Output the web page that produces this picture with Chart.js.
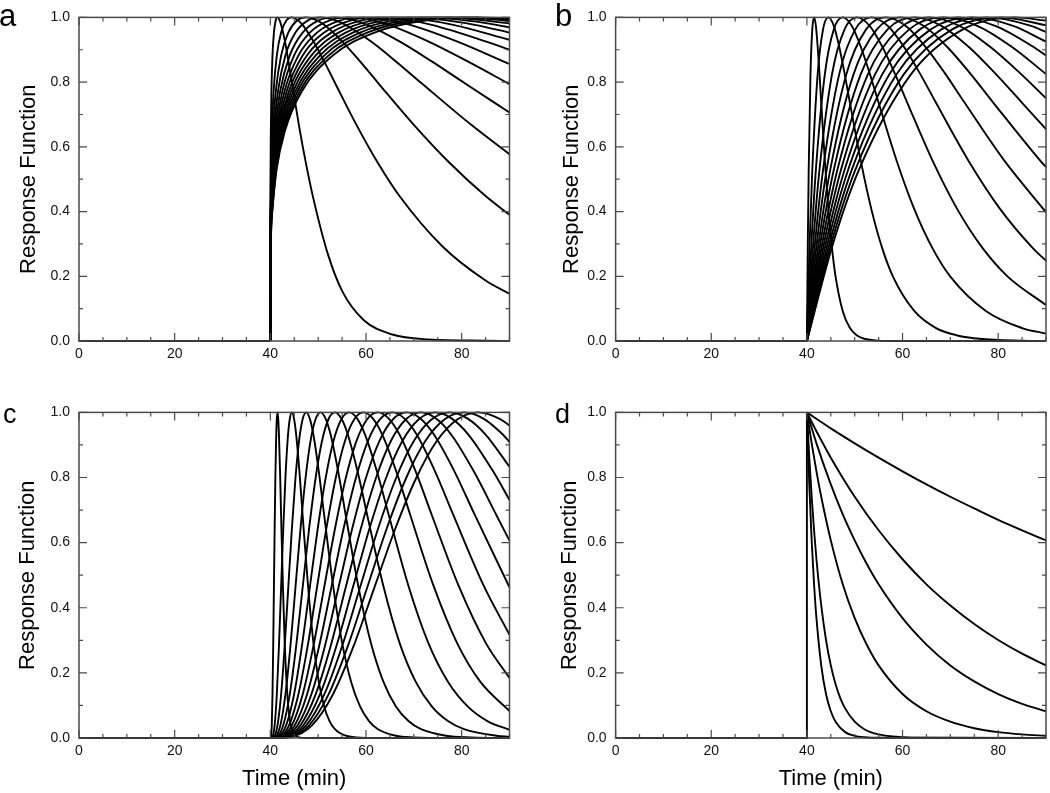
<!DOCTYPE html>
<html><head><meta charset="utf-8">
<script src="https://cdn.jsdelivr.net/npm/chart.js@4.4.1/dist/chart.umd.min.js"></script>
<style>
html,body{margin:0;padding:0;background:#fff;width:1050px;height:793px;overflow:hidden;position:relative}
canvas{position:absolute}
</style></head><body>
<canvas id="pa" width="530" height="380" style="left:0;top:0"></canvas>
<canvas id="pb" width="514" height="380" style="left:536px;top:0"></canvas>
<canvas id="pc" width="530" height="398" style="left:0;top:395px"></canvas>
<canvas id="pd" width="514" height="398" style="left:536px;top:395px"></canvas>
<script>
// ---------- tick labels / marks ----------
const xTickLabels = [0, 20, 40, 60, 80];
const yTickLabels = [0, 0.2, 0.4, 0.6, 0.8, 1.0];
const xTickMarks = [0, 5, 10, 15, 20, 25, 30, 35, 40, 45, 50, 55, 60, 65, 70, 75, 80, 85, 90];
const yTickMarks = [0, 0.1, 0.2, 0.3, 0.4, 0.5, 0.6, 0.7, 0.8, 0.9, 1.0];
const panelLetters = ['a', 'b', 'c', 'd'];
const xAxisTitle = 'Time (min)';
const yAxisTitle = 'Response Function';

// ---------- baselines (flat before onset at 40 min) ----------
const baseABC = [[0, 0], [40, 0]];
const baseD = [[0, 0], [40, 0], [40, 1]];

// ---------- panel a : fast-rising responses ----------
const curvesA = [
  [[40,0],[40.003,.271],[40.015,.405],[40.045,.53],[40.105,.649],[40.225,.77],[40.45,.882],[40.75,.953],[41.13,.991],[41.5,1],[41.88,.993],[42.25,.977],[43,.93],[44.5,.8],[46,.665],[47.5,.545],[49,.44],[52,.27],[55,.155],[59.5,.065],[65.5,.02],[73,.005],[85,.001],[90,0]],
  [[40,0],[40.009,.271],[40.045,.405],[40.135,.53],[40.315,.649],[40.675,.77],[41.35,.882],[42.25,.953],[43.38,.991],[44.5,1],[45.63,.993],[46.75,.977],[49,.926],[51.25,.864],[53.5,.798],[58,.668],[62.5,.55],[67,.448],[76,.292],[85,.187],[90,.146]],
  [[40,0],[40.015,.271],[40.075,.405],[40.225,.53],[40.525,.649],[41.13,.77],[42.25,.882],[43.75,.953],[45.63,.991],[47.5,1],[49.38,.993],[51.25,.977],[55,.926],[58.75,.864],[62.5,.798],[70,.668],[77.5,.55],[85,.448],[90,.39]],
  [[40,0],[40.021,.271],[40.105,.405],[40.315,.53],[40.735,.649],[41.58,.77],[43.15,.882],[45.25,.953],[47.88,.991],[50.5,1],[53.13,.993],[55.75,.977],[61,.926],[66.25,.864],[71.5,.798],[82,.668],[90,.577]],
  [[40,0],[40.027,.271],[40.135,.405],[40.405,.53],[40.945,.649],[42.03,.77],[44.05,.882],[46.75,.953],[50.13,.991],[53.5,1],[56.88,.993],[60.25,.977],[67,.926],[73.75,.864],[80.5,.798],[90,.706]],
  [[40,0],[40.033,.271],[40.165,.405],[40.495,.53],[41.16,.649],[42.48,.77],[44.95,.882],[48.25,.953],[52.38,.991],[56.5,1],[60.63,.993],[64.75,.977],[73,.926],[81.25,.864],[90,.794]],
  [[40,0],[40.039,.271],[40.195,.405],[40.585,.53],[41.37,.649],[42.93,.77],[45.85,.882],[49.75,.953],[54.63,.991],[59.5,1],[64.38,.993],[69.25,.977],[79,.926],[90,.856]],
  [[40,0],[40.045,.271],[40.225,.405],[40.675,.53],[41.58,.649],[43.38,.77],[46.75,.882],[51.25,.953],[56.88,.991],[62.5,1],[68.13,.993],[73.75,.977],[85,.926],[90,.9]],
  [[40,0],[40.051,.271],[40.255,.405],[40.765,.53],[41.79,.649],[43.83,.77],[47.65,.882],[52.75,.953],[59.13,.991],[65.5,1],[71.88,.993],[78.25,.977],[90,.931]],
  [[40,0],[40.057,.271],[40.285,.405],[40.855,.53],[42,.649],[44.28,.77],[48.55,.882],[54.25,.953],[61.38,.991],[68.5,1],[75.63,.993],[82.75,.977],[90,.953]],
  [[40,0],[40.063,.271],[40.315,.405],[40.945,.53],[42.21,.649],[44.73,.77],[49.45,.882],[55.75,.953],[63.63,.991],[71.5,1],[79.38,.993],[87.25,.977],[90,.969]],
  [[40,0],[40.069,.271],[40.345,.405],[41.04,.53],[42.42,.649],[45.18,.77],[50.35,.882],[57.25,.953],[65.88,.991],[74.5,1],[83.13,.993],[90,.981]],
  [[40,0],[40.075,.271],[40.375,.405],[41.13,.53],[42.63,.649],[45.63,.77],[51.25,.882],[58.75,.953],[68.13,.991],[77.5,1],[86.88,.993],[90,.989]],
  [[40,0],[40.081,.271],[40.405,.405],[41.22,.53],[42.84,.649],[46.08,.77],[52.15,.882],[60.25,.953],[70.38,.991],[80.5,1],[90,.994]],
  [[40,0],[40.087,.271],[40.435,.405],[41.31,.53],[43.05,.649],[46.53,.77],[53.05,.882],[61.75,.953],[72.63,.991],[83.5,1],[90,.997]]
];

// ---------- panel b : linear-onset responses ----------
const curvesB = [
  [[40,0],[40.19,.3],[40.38,.529],[40.75,.824],[41.13,.963],[41.5,1],[41.88,.974],[42.25,.91],[42.63,.827],[43,.736],[43.75,.558],[44.5,.406],[45.25,.287],[46,.199],[47.5,.092],[49,.04],[50.5,.017],[52,.007],[55,.001],[58,0],[90,0]],
  [[40,0],[40.56,.3],[41.13,.529],[42.25,.824],[43.38,.963],[44.5,1],[45.63,.974],[46.75,.91],[47.88,.827],[49,.736],[51.25,.558],[53.5,.406],[55.75,.287],[58,.199],[62.5,.092],[67,.04],[71.5,.017],[76,.007],[85,.001],[90,0]],
  [[40,0],[40.94,.3],[41.88,.529],[43.75,.824],[45.63,.963],[47.5,1],[49.38,.974],[51.25,.91],[53.13,.827],[55,.736],[58.75,.558],[62.5,.406],[66.25,.287],[70,.199],[77.5,.092],[85,.04],[90,.023]],
  [[40,0],[41.31,.3],[42.63,.529],[45.25,.824],[47.88,.963],[50.5,1],[53.13,.974],[55.75,.91],[58.38,.827],[61,.736],[66.25,.558],[71.5,.406],[76.75,.287],[82,.199],[90,.111]],
  [[40,0],[41.69,.3],[43.38,.529],[46.75,.824],[50.13,.963],[53.5,1],[56.88,.974],[60.25,.91],[63.63,.827],[67,.736],[73.75,.558],[80.5,.406],[87.25,.287],[90,.248]],
  [[40,0],[42.06,.3],[44.13,.529],[48.25,.824],[52.38,.963],[56.5,1],[60.63,.974],[64.75,.91],[68.88,.827],[73,.736],[81.25,.558],[90,.398]],
  [[40,0],[42.44,.3],[44.88,.529],[49.75,.824],[54.63,.963],[59.5,1],[64.38,.974],[69.25,.91],[74.13,.827],[79,.736],[88.75,.558],[90,.537]],
  [[40,0],[42.81,.3],[45.63,.529],[51.25,.824],[56.88,.963],[62.5,1],[68.13,.974],[73.75,.91],[79.38,.827],[85,.736],[90,.655]],
  [[40,0],[43.19,.3],[46.38,.529],[52.75,.824],[59.13,.963],[65.5,1],[71.88,.974],[78.25,.91],[84.63,.827],[90,.75]],
  [[40,0],[43.56,.3],[47.13,.529],[54.25,.824],[61.38,.963],[68.5,1],[75.63,.974],[82.75,.91],[90,.825]],
  [[40,0],[43.94,.3],[47.88,.529],[55.75,.824],[63.63,.963],[71.5,1],[79.38,.974],[87.25,.91],[90,.882]],
  [[40,0],[44.31,.3],[48.63,.529],[57.25,.824],[65.88,.963],[74.5,1],[83.13,.974],[90,.925]],
  [[40,0],[44.69,.3],[49.38,.529],[58.75,.824],[68.13,.963],[77.5,1],[86.88,.974],[90,.955]],
  [[40,0],[45.06,.3],[50.13,.529],[60.25,.824],[70.38,.963],[80.5,1],[90,.976]],
  [[40,0],[45.44,.3],[50.88,.529],[61.75,.824],[72.63,.963],[83.5,1],[90,.99]]
];

// ---------- panel c : delayed, bell-shaped responses ----------
const curvesC = [
  [[40,0],[40.15,.004],[40.3,.039],[40.45,.133],[40.6,.282],[40.75,.462],[40.9,.642],[41.05,.797],[41.2,.912],[41.35,.979],[41.5,1],[41.65,.981],[41.8,.932],[42.03,.819],[42.25,.685],[42.63,.467],[43,.293],[43.38,.173],[43.75,.097],[44.13,.052],[44.5,.027],[45.25,.007],[46,.002],[47.5,0],[90,0]],
  [[40,0],[40.45,.004],[40.9,.039],[41.35,.133],[41.8,.282],[42.25,.462],[42.7,.642],[43.15,.797],[43.6,.912],[44.05,.979],[44.5,1],[44.95,.981],[45.4,.932],[46.08,.819],[46.75,.685],[47.88,.467],[49,.293],[50.13,.173],[51.25,.097],[52.38,.052],[53.5,.027],[55.75,.007],[58,.002],[62.5,0],[90,0]],
  [[40,0],[40.75,.004],[41.5,.039],[42.25,.133],[43,.282],[43.75,.462],[44.5,.642],[45.25,.797],[46,.912],[46.75,.979],[47.5,1],[48.25,.981],[49,.932],[50.13,.819],[51.25,.685],[53.13,.467],[55,.293],[56.88,.173],[58.75,.097],[60.63,.052],[62.5,.027],[66.25,.007],[70,.002],[77.5,0],[90,0]],
  [[40,0],[41.05,.004],[42.1,.039],[43.15,.133],[44.2,.282],[45.25,.462],[46.3,.642],[47.35,.797],[48.4,.912],[49.45,.979],[50.5,1],[51.55,.981],[52.6,.932],[54.18,.819],[55.75,.685],[58.38,.467],[61,.293],[63.63,.173],[66.25,.097],[68.88,.052],[71.5,.027],[76.75,.007],[82,.002],[90,0]],
  [[40,0],[41.35,.004],[42.7,.039],[44.05,.133],[45.4,.282],[46.75,.462],[48.1,.642],[49.45,.797],[50.8,.912],[52.15,.979],[53.5,1],[54.85,.981],[56.2,.932],[58.23,.819],[60.25,.685],[63.63,.467],[67,.293],[70.38,.173],[73.75,.097],[77.13,.052],[80.5,.027],[87.25,.007],[90,.004]],
  [[40,0],[41.65,.004],[43.3,.039],[44.95,.133],[46.6,.282],[48.25,.462],[49.9,.642],[51.55,.797],[53.2,.912],[54.85,.979],[56.5,1],[58.15,.981],[59.8,.932],[62.28,.819],[64.75,.685],[68.88,.467],[73,.293],[77.13,.173],[81.25,.097],[85.38,.052],[90,.025]],
  [[40,0],[41.95,.004],[43.9,.039],[45.85,.133],[47.8,.282],[49.75,.462],[51.7,.642],[53.65,.797],[55.6,.912],[57.55,.979],[59.5,1],[61.45,.981],[63.4,.932],[66.33,.819],[69.25,.685],[74.13,.467],[79,.293],[83.88,.173],[90,.083]],
  [[40,0],[42.25,.004],[44.5,.039],[46.75,.133],[49,.282],[51.25,.462],[53.5,.642],[55.75,.797],[58,.912],[60.25,.979],[62.5,1],[64.75,.981],[67,.932],[70.38,.819],[73.75,.685],[79.38,.467],[85,.293],[90,.184]],
  [[40,0],[42.55,.004],[45.1,.039],[47.65,.133],[50.2,.282],[52.75,.462],[55.3,.642],[57.85,.797],[60.4,.912],[62.95,.979],[65.5,1],[68.05,.981],[70.6,.932],[74.43,.819],[78.25,.685],[84.63,.467],[90,.317]],
  [[40,0],[42.85,.004],[45.7,.039],[48.55,.133],[51.4,.282],[54.25,.462],[57.1,.642],[59.95,.797],[62.8,.912],[65.65,.979],[68.5,1],[71.35,.981],[74.2,.932],[78.48,.819],[82.75,.685],[90,.463]],
  [[40,0],[43.15,.004],[46.3,.039],[49.45,.133],[52.6,.282],[55.75,.462],[58.9,.642],[62.05,.797],[65.2,.912],[68.35,.979],[71.5,1],[74.65,.981],[77.8,.932],[82.53,.819],[87.25,.685],[90,.606]],
  [[40,0],[43.45,.004],[46.9,.039],[50.35,.133],[53.8,.282],[57.25,.462],[60.7,.642],[64.15,.797],[67.6,.912],[71.05,.979],[74.5,1],[77.95,.981],[81.4,.932],[86.58,.819],[90,.731]],
  [[40,0],[43.75,.004],[47.5,.039],[51.25,.133],[55,.282],[58.75,.462],[62.5,.642],[66.25,.797],[70,.912],[73.75,.979],[77.5,1],[81.25,.981],[85,.932],[90,.833]],
  [[40,0],[44.05,.004],[48.1,.039],[52.15,.133],[56.2,.282],[60.25,.462],[64.3,.642],[68.35,.797],[72.4,.912],[76.45,.979],[80.5,1],[84.55,.981],[88.6,.932],[90,.909]],
  [[40,0],[44.35,.004],[48.7,.039],[53.05,.133],[57.4,.282],[61.75,.462],[66.1,.642],[70.45,.797],[74.8,.912],[79.15,.979],[83.5,1],[87.85,.981],[90,.96]]
];

// ---------- panel d : instantaneous rise, exponential decays ----------
const curvesD = [
  [[40,1],[45,.951],[50,.905],[55,.861],[60,.819],[65,.779],[70,.741],[75,.705],[80,.67],[85,.638],[90,.607]],
  [[40,1],[42,.942],[45,.861],[50,.741],[55,.638],[60,.549],[65,.472],[70,.407],[75,.35],[80,.301],[85,.259],[90,.223]],
  [[40,1],[42,.905],[45,.779],[47.5,.687],[50,.607],[52.5,.535],[55,.472],[60,.368],[65,.287],[70,.223],[75,.174],[80,.135],[85,.105],[90,.082]],
  [[40,1],[41,.905],[42,.819],[43,.741],[45,.607],[47.5,.472],[50,.368],[52.5,.287],[55,.223],[60,.135],[65,.082],[70,.05],[75,.03],[80,.018],[85,.011],[90,.0067]],
  [[40,1],[40.5,.861],[41,.741],[41.5,.638],[42,.549],[43,.407],[44,.301],[45,.223],[46,.165],[47,.122],[48,.091],[50,.05],[52,.027],[55,.011],[60,.0025],[65,.0006],[90,0]],
  [[40,1],[40.5,.779],[41,.607],[41.5,.472],[42,.368],[43,.223],[44,.135],[45,.082],[46,.05],[48,.018],[50,.0067],[52,.0025],[55,.0006],[90,0]]
];

// ---------- drawing ----------
const FONT = '"Liberation Sans", Arial, Helvetica, sans-serif';

const framePlugin = {
  id: 'frame',
  afterDatasetsDraw(chart, args, opts) {
    const ctx = chart.ctx, a = chart.chartArea, xs = chart.scales.x, ys = chart.scales.y;
    ctx.save();
    ctx.strokeStyle = '#4a4a4a';
    ctx.lineWidth = 1.5;
    ctx.strokeRect(a.left, a.top, a.right - a.left, a.bottom - a.top);
    ctx.lineWidth = 1.2;
    ctx.beginPath();
    xTickMarks.forEach(v => {
      const px = xs.getPixelForValue(v);
      const L = xTickLabels.some(t => Math.abs(t - v) < 1e-6) ? 8 : 4;
      ctx.moveTo(px, a.bottom); ctx.lineTo(px, a.bottom - L);
      ctx.moveTo(px, a.top); ctx.lineTo(px, a.top + L);
    });
    yTickMarks.forEach(v => {
      const py = ys.getPixelForValue(v);
      const L = yTickLabels.some(t => Math.abs(t - v) < 1e-6) ? 8 : 4;
      ctx.moveTo(a.left, py); ctx.lineTo(a.left + L, py);
      ctx.moveTo(a.right, py); ctx.lineTo(a.right - L, py);
    });
    ctx.stroke();
    ctx.restore();
  },
  afterDraw(chart, args, opts) {
    const ctx = chart.ctx;
    ctx.save();
    ctx.fillStyle = '#000';
    ctx.font = opts.lsize + 'px ' + FONT;
    ctx.textBaseline = 'alphabetic';
    ctx.textAlign = 'left';
    ctx.fillText(opts.letter, opts.lx, opts.ly);
    ctx.restore();
  }
};

function buildChart(id, base, curves, p) {
  const datasets = [base].concat(curves).map(d => ({
    data: d,
    borderColor: '#000',
    borderWidth: 1.9,
    pointRadius: 0,
    fill: false,
    cubicInterpolationMode: 'monotone',
    clip: 3
  }));
  return new Chart(document.getElementById(id), {
    type: 'line',
    data: { datasets },
    plugins: [framePlugin],
    options: {
      responsive: false,
      animation: false,
      devicePixelRatio: 1,
      events: [],
      layout: { padding: { left: 0, right: p.padRight, top: p.padTop, bottom: 0 } },
      plugins: {
        legend: { display: false },
        tooltip: { enabled: false },
        frame: { letter: p.letter, lx: p.lx, ly: p.ly, lsize: p.lsize }
      },
      scales: {
        x: {
          type: 'linear', min: 0, max: 90,
          afterBuildTicks: s => { s.ticks = xTickLabels.map(v => ({ value: v })); },
          afterFit: s => { s.height = p.xh; },
          grid: { display: false, drawTicks: false },
          border: { display: false },
          ticks: { padding: 5, color: '#111', font: { family: FONT, size: 14 }, maxRotation: 0, autoSkip: false, callback: v => String(v) },
          title: p.xTitle
            ? { display: true, text: xAxisTitle, color: '#000', font: { family: FONT, size: 22 }, padding: { top: 0, bottom: p.xtPad } }
            : { display: false }
        },
        y: {
          type: 'linear', min: 0, max: 1,
          afterBuildTicks: s => { s.ticks = yTickLabels.map(v => ({ value: v })); },
          afterFit: s => { s.width = p.yw; },
          grid: { display: false, drawTicks: false },
          border: { display: false },
          ticks: { padding: 9, color: '#111', font: { family: FONT, size: 14 }, autoSkip: false, callback: v => Number(v).toFixed(1) },
          title: { display: true, text: yAxisTitle, color: '#000', font: { family: FONT, size: 22 }, padding: { top: p.ytPad, bottom: 0 } }
        }
      }
    }
  });
}

buildChart('pa', baseABC, curvesA, { padRight: 20.5, padTop: 11, xh: 39, yw: 79, ytPad: 15.8, xTitle: false, letter: panelLetters[0], lx: -1, ly: 26, lsize: 31 });
buildChart('pb', baseABC, curvesB, { padRight: 4, padTop: 11, xh: 39, yw: 79.6, ytPad: 22.8, xTitle: false, letter: panelLetters[1], lx: 19, ly: 25.5, lsize: 31 });
buildChart('pc', baseABC, curvesC, { padRight: 20.5, padTop: 13, xh: 55, yw: 79, ytPad: 14.8, xTitle: true, xtPad: 0.8, letter: panelLetters[2], lx: 3, ly: 28, lsize: 27 });
buildChart('pd', baseD, curvesD, { padRight: 4, padTop: 13, xh: 55, yw: 79.6, ytPad: 20.8, xTitle: true, xtPad: 0.8, letter: panelLetters[3], lx: 19, ly: 28, lsize: 27 });
</script>
</body></html>
